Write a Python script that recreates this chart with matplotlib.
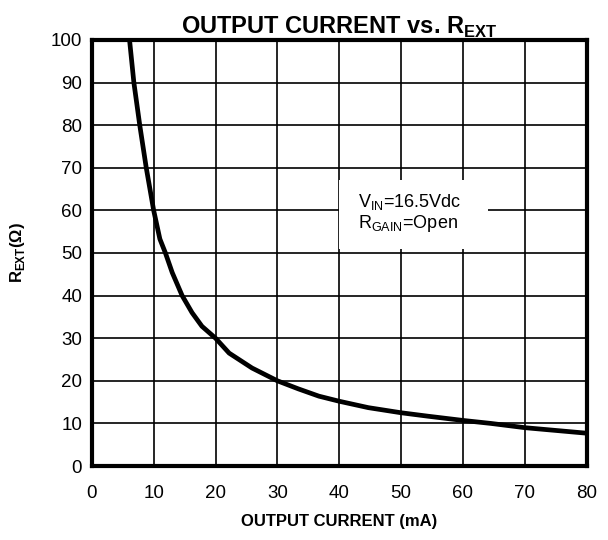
import matplotlib
matplotlib.use("Agg")
import matplotlib.pyplot as plt

plt.rcParams['font.family'] = ['Liberation Sans', 'DejaVu Sans']
plt.rcParams['mathtext.fontset'] = 'custom'
plt.rcParams['mathtext.rm'] = 'Liberation Sans'
plt.rcParams['mathtext.bf'] = 'Liberation Sans:bold'

# curve
current_ma = [6.1, 6.8, 7.75, 8.8, 10.0, 11.0, 11.9, 13.0, 14.6, 16.2, 17.8, 20, 22.2,
              25.9, 30, 33.4, 36.7, 40, 44.7, 50, 54.3, 60, 64.5, 70, 80]
r_ext = [100, 90, 80, 70, 60, 53.3, 50, 45.4, 40, 36, 32.8, 30, 26.5,
         23, 20, 18.1, 16.4, 15.2, 13.7, 12.5, 11.7, 10.7, 10, 9.0, 7.7]

x_ticks = [0, 10, 20, 30, 40, 50, 60, 70, 80]
y_ticks = [0, 10, 20, 30, 40, 50, 60, 70, 80, 90, 100]

fig = plt.figure(figsize=(6.08, 5.40), dpi=100)
ax = fig.add_axes([0.151, 0.137, 0.814, 0.789])

ax.plot(current_ma, r_ext, color='black', lw=3.4, solid_joinstyle='round',
        solid_capstyle='butt', zorder=3)

ax.set_xlim(0, 80)
ax.set_ylim(0, 100)
ax.set_xticks(x_ticks)
ax.set_yticks(y_ticks)
ax.grid(True, color='black', lw=1.2)
ax.tick_params(length=0, labelsize=13.5, pad=7)
ax.tick_params(axis='x', pad=14)
for s in ax.spines.values():
    s.set_linewidth(3)
    s.set_zorder(4)

ax.set_title(r'OUTPUT CURRENT vs. R$_\mathbf{EXT}$', fontsize=17, fontweight='bold', pad=4)
ax.set_xlabel('OUTPUT CURRENT (mA)', fontsize=12, fontweight='bold', labelpad=8)
ax.set_ylabel(r'R$_\mathbf{EXT}$(Ω)', fontsize=12, fontweight='bold', labelpad=17)

# white annotation box covering the grid
ax.fill_between([39.9, 64.1], 50.9, 67.1, color='white', zorder=2.5, lw=0)
ax.text(43, 62, r'V$_\mathrm{IN}$=16.5Vdc', fontsize=13, va='center', zorder=3)
ax.text(43, 57, r'R$_\mathrm{GAIN}$=Open', fontsize=13, va='center', zorder=3)

fig.savefig('out.png', dpi=100)
